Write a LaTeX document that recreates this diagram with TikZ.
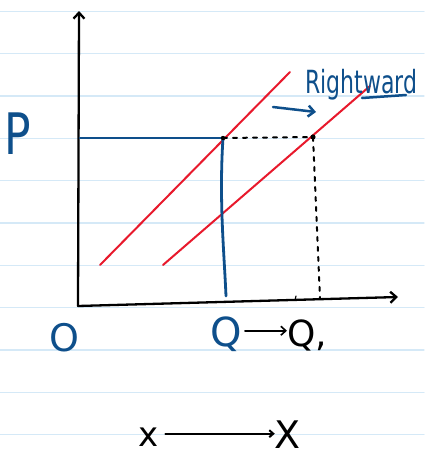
\documentclass[tikz,border=0pt]{standalone}
\usepackage{fontspec}
\usepackage{graphicx}
\setmainfont{DejaVu Sans}
\usetikzlibrary{arrows.meta,positioning}
\definecolor{inkblue}{HTML}{0E4F8B}
\definecolor{inkred}{HTML}{E8192C}
\definecolor{ruled}{HTML}{D5E9F7}

\begin{document}
\begin{tikzpicture}[x=1pt,y=-1pt,line cap=round,line join=round,
  every node/.style={inner sep=0pt},
  barb/.style={-{Straight Barb[length=6pt,width=11pt]}},
  axisline/.style={barb,line width=2.3pt},
  supply/.style={inkred,line width=2pt},
  guide/.style={inkblue,line width=2.8pt},
  dotted guide/.style={line width=2pt,dash pattern=on 4pt off 6pt}]
\useasboundingbox (0,0) rectangle (424,456);
\fill[white] (0,0) rectangle (424,456);
\foreach \k in {0,...,10}
  \draw[ruled,line width=1.3pt] (0,11.5+42.3*\k) -- (424,11.5+42.3*\k);
% axes
\coordinate (o) at (78,306);
\coordinate (ytop) at (79,11);
\coordinate (xend) at (398,297);
\draw[axisline] (o) -- (ytop);
\draw[axisline] (o) -- (xend);
% supply curves
\coordinate (s1a) at (100,265);
\coordinate (s1b) at (290,72);
\coordinate (s2a) at (163,265);
\coordinate (s2b) at (370,86);
\draw[supply] (s1a) -- (s1b);
\draw[supply] (s2a) -- (s2b);
% equilibria
\coordinate (e1) at (223,138);
\coordinate (e2) at (313,137);
\coordinate (pl) at (80,138);
\coordinate (qb) at (226,296);
\coordinate (q1b) at (320,298);
\draw[guide] (pl) -- (e1);
\draw[guide] (e1) .. controls (219,200) and (224,250) .. (qb);
\draw[dotted guide] (e1) -- (e2);
\draw[dotted guide] (e2) -- (q1b);
\fill (e1) circle (2.2pt);
\fill (e2) circle (2.6pt);
\coordinate (t1) at (295,300);
\coordinate (t2) at (296,296);
\draw[line width=1.2pt] (t1) -- (t2);
% labels
\node[inkblue,anchor=base,font=\fontsize{44}{44}\selectfont] (plab) at (18,154) {\scalebox{1}[1.3]{P}};
\node[inkblue,anchor=base,font=\fontsize{38}{38}\selectfont] (olab) at (64,351) {O};
\node[inkblue,anchor=base,font=\fontsize{40}{40}\selectfont] (qlab) at (226,346) {Q};
\node[anchor=base west,font=\fontsize{36}{36}\selectfont] (q1lab) at (287,346) {Q,};
\draw[-{Straight Barb[length=5pt,width=9pt]},line width=1.6pt] (qlab.east) ++(3,-3) coordinate (qa) -- (q1lab.west |- qa);
% rightward shift
\node[inkblue,anchor=base west,font=\fontsize{22}{22}\selectfont] (shift) at (305,93) {\scalebox{1}[1.45]{Rightward}};
\coordinate (ul1) at (362,98);
\coordinate (ul2) at (406,95);
\draw[inkblue,line width=2.5pt] (ul1) -- (ul2);
\coordinate (sa) at (273,107);
\coordinate (sb) at (316,112);
\draw[inkblue,line width=2.5pt,barb] (sa) -- (sb);
% bottom
\node[anchor=base,font=\fontsize{34}{34}\selectfont] (xa) at (149,446) {x};
\node[anchor=base,font=\fontsize{38}{38}\selectfont] (xb) at (288,448) {X};
\draw[-{Straight Barb[length=4pt,width=7pt]},line width=2pt] (xa.east) ++(6,-3) coordinate (xs) -- (xb.west |- xs);
\end{tikzpicture}
\end{document}
